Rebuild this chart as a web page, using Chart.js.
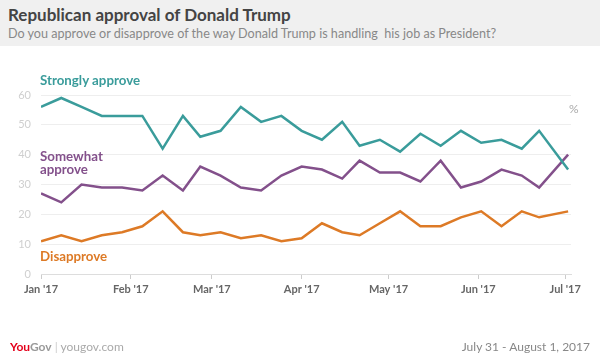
<!DOCTYPE html>
<html>
<head>
<meta charset="utf-8">
<script src="https://cdn.jsdelivr.net/npm/chart.js@4/dist/chart.umd.min.js"></script>
<style>
body { margin: 0; width: 600px; height: 358px; position: relative; overflow: hidden; background: #fff; font-family: Lato, "Open Sans", sans-serif; }
.header { position: absolute; left: 0; top: 0; width: 600px; height: 46px; background: #f0f0f0; }
.title { position: absolute; left: 8px; top: 4px; font-size: 17px; font-weight: bold; color: #444; white-space: nowrap; }
.subtitle { position: absolute; left: 8px; top: 26px; font-size: 12.6px; color: #888; white-space: nowrap; }
.lbl { position: absolute; font-weight: bold; font-size: 13.3px; line-height: 13px; white-space: nowrap; }
#chart { position: absolute; left: 0; top: 0; }
.footer { position: absolute; top: 339px; font-size: 12px; color: #aaa; white-space: nowrap; }
</style>
</head>
<body>
<div class="header">
  <div class="title">Republican approval of Donald Trump</div>
  <div class="subtitle">Do you approve or disapprove of the way Donald Trump is handling&nbsp; his job as President?</div>
</div>
<canvas id="chart" width="600" height="358"></canvas>
<div class="lbl" style="left:40px;top:74px;color:#3a9c9b">Strongly approve</div>
<div class="lbl" style="left:40px;top:150px;color:#83508b">Somewhat<br>approve</div>
<div class="lbl" style="left:40px;top:250px;color:#dd7a26">Disapprove</div>
<div class="lbl" style="left:569px;top:102px;color:#aaa;font-weight:normal;font-size:12px">%</div>
<div class="footer" style="left:10px"><span style="color:#e4001b;font-weight:bold">You</span><span style="color:#999;font-weight:bold">Gov</span> <span style="color:#ccc">|</span> yougov.com</div>
<div class="footer" style="right:10px;color:#888">July 31 - August 1, 2017</div>
<script>
// days since Jan 1 2017 for each weekly poll
const pollDays = [0, 7, 14, 21, 28, 35, 42, 49, 55, 62, 69, 76, 83, 90, 97, 104, 110, 117, 124, 131, 138, 145, 152, 159, 166, 172, 182];
const stronglyApprove = [56, 59, 56, 53, 53, 53, 42, 53, 46, 48, 56, 51, 53, 48, 45, 51, 43, 45, 41, 47, 43, 48, 44, 45, 42, 48, 35];
const somewhatApprove = [27, 24, 30, 29, 29, 28, 33, 28, 36, 33, 29, 28, 33, 36, 35, 32, 38, 34, 34, 31, 38, 29, 31, 35, 33, 29, 40];
const disapprove = [11, 13, 11, 13, 14, 16, 21, 14, 13, 14, 12, 13, 11, 12, 17, 14, 13, 17, 21, 16, 16, 19, 21, 16, 21, 19, 21];

const monthDays = [0, 31, 59, 90, 120, 151, 181];
const monthLabels = ["Jan '17", "Feb '17", "Mar '17", "Apr '17", "May '17", "Jun '17", "Jul '17"];

function toPoints(values) {
    return pollDays.map((d, i) => ({ x: d, y: values[i] }));
}

const ctx = document.getElementById('chart').getContext('2d');
new Chart(ctx, {
    type: 'line',
    data: {
        datasets: [
            { label: 'Strongly approve', data: toPoints(stronglyApprove), borderColor: '#3a9c9b' },
            { label: 'Somewhat approve', data: toPoints(somewhatApprove), borderColor: '#83508b' },
            { label: 'Disapprove', data: toPoints(disapprove), borderColor: '#dd7a26' }
        ]
    },
    options: {
        responsive: false,
        animation: false,
        elements: {
            line: { borderWidth: 2.5, tension: 0, fill: false },
            point: { radius: 0 }
        },
        layout: { padding: { top: 95, right: 29, bottom: 54, left: 0 } },
        plugins: { legend: { display: false }, tooltip: { enabled: false } },
        scales: {
            x: {
                type: 'linear',
                min: 0,
                max: 183,
                afterBuildTicks: (axis) => { axis.ticks = monthDays.map(v => ({ value: v })); },
                afterFit: (scale) => { scale.height = 30; },
                ticks: {
                    autoSkip: false,
                    maxRotation: 0,
                    padding: 4,
                    color: '#666',
                    font: { family: 'Lato', size: 11, weight: 'bold' },
                    callback: (value, index) => monthLabels[index]
                },
                grid: { drawOnChartArea: false, drawTicks: true, tickLength: 5, color: '#ccc' },
                border: { display: true, color: '#ddd' }
            },
            y: {
                min: 0,
                max: 60,
                afterFit: (scale) => { scale.width = 41; },
                ticks: {
                    stepSize: 10,
                    padding: 10,
                    color: '#cfcfcf',
                    font: { family: 'Lato', size: 11 }
                },
                grid: { drawTicks: false, color: '#eee' },
                border: { display: false }
            }
        }
    }
});
</script>
</body>
</html>
